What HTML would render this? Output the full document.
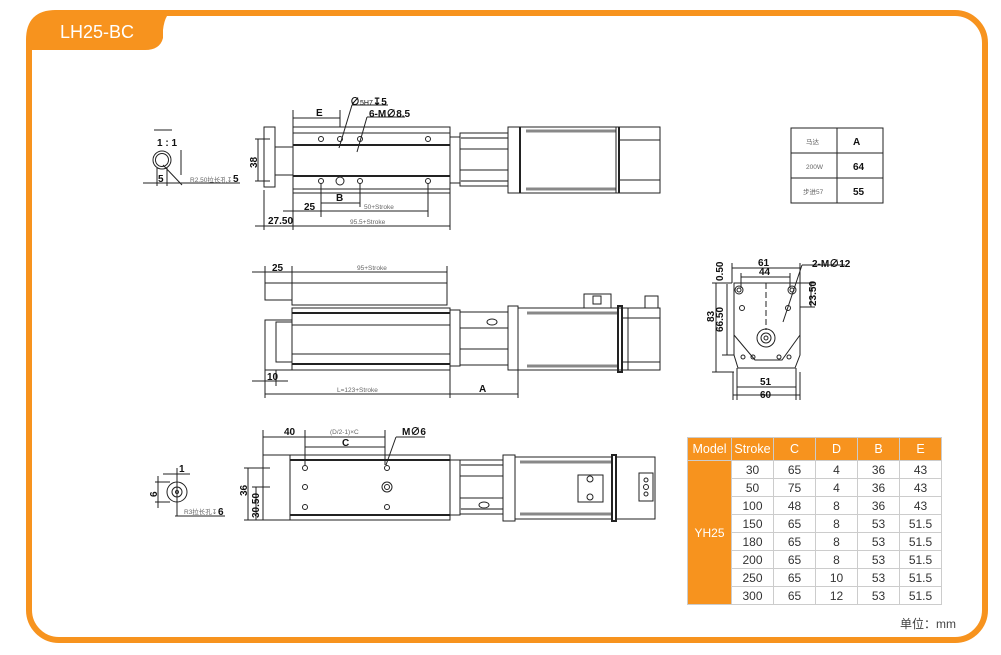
<!DOCTYPE html>
<html><head><meta charset="utf-8"><style>
html,body{margin:0;padding:0;background:#fff;}
body{width:1001px;height:655px;position:relative;overflow:hidden;font-family:"Liberation Sans","Noto Sans CJK SC",sans-serif;}
svg{position:absolute;left:0;top:0}
table{position:absolute;left:687px;top:437px;border-collapse:collapse;font-size:12px;color:#333;}
td{border:1px solid #ccc;text-align:center;height:17px;padding:0;width:41px;}
tr.h td{background:#f7931e;color:#fff;height:22px;font-size:12.5px;}
td.m{background:#f7931e;color:#fff;width:43px;}
</style></head><body>
<svg width="1001" height="655" viewBox="0 0 1001 655" font-family="Liberation Sans, Noto Sans CJK SC, sans-serif">
<!-- frame -->
<rect x="29" y="13" width="956" height="627" rx="30" fill="none" stroke="#f7931e" stroke-width="6"/>
<path d="M26,50 L26,40 Q26,10 56,10 L175,10 Q165,12 163,30 L163,38 Q160,50 145,50 Z" fill="#f7931e"/>
<text x="60" y="38" fill="#fff" font-size="18">LH25-BC</text>

<g stroke="#222" fill="none" stroke-width="1">
<!-- TOP VIEW -->
<rect x="264" y="127" width="11" height="60"/>
<rect x="275" y="147" width="18" height="28"/>
<rect x="293" y="127" width="157" height="66"/>
<line x1="293" y1="133" x2="450" y2="133"/><line x1="293" y1="145" x2="450" y2="145" stroke-width="2"/>
<line x1="293" y1="176" x2="450" y2="176" stroke-width="2"/><line x1="293" y1="189" x2="450" y2="189"/>
<circle cx="321" cy="139" r="2.5"/><circle cx="340" cy="139" r="2.5"/><circle cx="360" cy="139" r="2.5"/><circle cx="428" cy="139" r="2.5"/>
<circle cx="321" cy="181" r="2.5"/><circle cx="340" cy="181" r="4"/><circle cx="360" cy="181" r="2.5"/><circle cx="428" cy="181" r="2.5"/>
<rect x="450" y="137" width="10" height="46"/>
<rect x="460" y="133" width="48" height="16"/><rect x="460" y="170" width="48" height="16"/>
<line x1="460" y1="138" x2="508" y2="138" stroke="#888" stroke-width="2"/><line x1="460" y1="181" x2="508" y2="181" stroke="#888" stroke-width="2"/>
<rect x="508" y="127" width="12" height="66"/><line x1="520" y1="127" x2="520" y2="193" stroke-width="2"/>
<rect x="520" y="127" width="96" height="66"/>
<line x1="526" y1="131" x2="616" y2="131" stroke="#888" stroke-width="3"/><line x1="526" y1="189" x2="616" y2="189" stroke="#888" stroke-width="3"/>
<rect x="616" y="127" width="44" height="66"/>
<line x1="619" y1="127" x2="619" y2="193" stroke-width="2"/>
<line x1="620" y1="140" x2="660" y2="140"/><line x1="620" y1="180" x2="660" y2="180"/>
<!-- top dims -->
<line x1="293" y1="110" x2="293" y2="127"/><line x1="340" y1="110" x2="340" y2="127"/>
<line x1="293" y1="118" x2="340" y2="118"/>
<line x1="255" y1="139" x2="270" y2="139"/><line x1="255" y1="181" x2="270" y2="181"/><line x1="258" y1="139" x2="258" y2="181"/>
<line x1="321" y1="183" x2="321" y2="217"/><line x1="360" y1="183" x2="360" y2="207"/><line x1="428" y1="183" x2="428" y2="217"/>
<line x1="321" y1="203" x2="360" y2="203"/><line x1="321" y1="211" x2="428" y2="211"/><line x1="283" y1="211" x2="321" y2="211"/>
<line x1="264" y1="190" x2="264" y2="230"/><line x1="293" y1="193" x2="293" y2="230"/><line x1="450" y1="193" x2="450" y2="230"/>
<line x1="255" y1="226" x2="450" y2="226"/>
<line x1="339" y1="148" x2="352" y2="105"/><line x1="352" y1="105" x2="388" y2="105"/>
<line x1="357" y1="152" x2="367" y2="117"/><line x1="367" y1="117" x2="405" y2="117"/>
<!-- detail 1 -->
<circle cx="162" cy="160" r="9"/><circle cx="162" cy="160" r="6.5"/>
<line x1="154" y1="130" x2="172" y2="130"/>
<line x1="143" y1="183" x2="240" y2="183"/><line x1="157" y1="168" x2="157" y2="186"/><line x1="167" y1="168" x2="167" y2="186"/>
<line x1="163" y1="165" x2="182" y2="185"/>
<line x1="181" y1="150" x2="181" y2="175"/>

<!-- SIDE VIEW -->
<rect x="265" y="283" width="27" height="17"/>
<rect x="265" y="320" width="27" height="50"/>
<rect x="276" y="322" width="16" height="40"/>
<rect x="292" y="283" width="155" height="22"/>
<rect x="292" y="308" width="158" height="62"/>
<line x1="292" y1="313" x2="450" y2="313" stroke-width="2"/><line x1="292" y1="325" x2="450" y2="325"/>
<line x1="292" y1="354" x2="450" y2="354"/><line x1="292" y1="364" x2="450" y2="364" stroke-width="2"/>
<rect x="450" y="310" width="10" height="56"/>
<rect x="460" y="312" width="48" height="16"/><rect x="460" y="349" width="48" height="16"/>
<ellipse cx="492" cy="322" rx="5" ry="3"/>
<rect x="508" y="306" width="10" height="64"/>
<rect x="518" y="308" width="110" height="62"/>
<line x1="527" y1="313" x2="618" y2="313" stroke="#888" stroke-width="3"/><line x1="527" y1="366" x2="618" y2="366" stroke="#888" stroke-width="3"/>
<rect x="618" y="306" width="4" height="66" stroke-width="2"/>
<rect x="622" y="308" width="38" height="62"/>
<line x1="622" y1="318" x2="660" y2="318"/><line x1="622" y1="362" x2="660" y2="362"/>
<path d="M584,308 V294 H611 V308 M593,296 V304 H601 V296 Z"/>
<path d="M645,308 V296 H658 V308"/>
<!-- side dims -->
<line x1="265" y1="266" x2="265" y2="283"/><line x1="292" y1="266" x2="292" y2="283"/><line x1="447" y1="266" x2="447" y2="283"/>
<line x1="252" y1="272" x2="447" y2="272"/>
<line x1="265" y1="370" x2="265" y2="398"/><line x1="276" y1="370" x2="276" y2="386"/>
<line x1="252" y1="381" x2="288" y2="381"/>
<line x1="450" y1="370" x2="450" y2="398"/><line x1="518" y1="370" x2="518" y2="398"/>
<line x1="265" y1="394" x2="518" y2="394"/>

<!-- END VIEW -->
<path d="M734,283 H800 V355 L795,368 H738 L734,355 Z"/>
<path d="M734,335 L755,360 H782 L800,335"/>
<circle cx="766" cy="338" r="9"/><circle cx="766" cy="338" r="5"/><circle cx="766" cy="338" r="2"/>
<circle cx="739" cy="290" r="4"/><circle cx="739" cy="290" r="2"/>
<circle cx="792" cy="290" r="4"/><circle cx="792" cy="290" r="2"/>
<circle cx="742" cy="308" r="2.5"/><circle cx="788" cy="308" r="2.5"/>
<circle cx="743" cy="357" r="2"/><circle cx="789" cy="357" r="2"/><circle cx="753" cy="357" r="2"/><circle cx="779" cy="357" r="2"/>
<line x1="766" y1="283" x2="766" y2="330" stroke-dasharray="6,3"/>
<line x1="732" y1="263" x2="732" y2="283"/><line x1="800" y1="263" x2="800" y2="283"/>
<line x1="732" y1="268" x2="800" y2="268"/><line x1="741" y1="277" x2="790" y2="277"/><line x1="741" y1="273" x2="741" y2="288"/><line x1="790" y1="273" x2="790" y2="288"/>
<line x1="712" y1="283" x2="732" y2="283"/><line x1="712" y1="372" x2="734" y2="372"/><line x1="722" y1="355" x2="734" y2="355"/>
<line x1="716" y1="283" x2="716" y2="372"/><line x1="727" y1="284" x2="727" y2="355"/>
<line x1="800" y1="283" x2="815" y2="283"/><line x1="800" y1="307" x2="815" y2="307"/><line x1="811" y1="283" x2="811" y2="307"/>
<line x1="783" y1="322" x2="802" y2="265"/><line x1="802" y1="265" x2="845" y2="265"/>
<line x1="737" y1="368" x2="737" y2="400"/><line x1="796" y1="368" x2="796" y2="400"/><line x1="733" y1="372" x2="733" y2="400"/><line x1="800" y1="372" x2="800" y2="400"/>
<line x1="737" y1="387" x2="796" y2="387"/><line x1="733" y1="395" x2="800" y2="395"/>
<!-- small table -->
<rect x="791" y="128" width="92" height="75"/>
<line x1="791" y1="153" x2="883" y2="153"/><line x1="791" y1="178" x2="883" y2="178"/><line x1="837" y1="128" x2="837" y2="203"/>

<!-- BOTTOM VIEW -->
<rect x="263" y="455" width="187" height="65"/>
<line x1="290" y1="455" x2="290" y2="520"/>
<line x1="290" y1="460" x2="450" y2="460" stroke-width="2"/><line x1="290" y1="515" x2="450" y2="515" stroke-width="2"/>
<circle cx="305" cy="468" r="2.5"/><circle cx="387" cy="468" r="2.5"/>
<circle cx="305" cy="487" r="2.5"/><circle cx="387" cy="487" r="5"/><circle cx="387" cy="487" r="2.5"/>
<circle cx="305" cy="507" r="2.5"/><circle cx="387" cy="507" r="2.5"/>
<rect x="450" y="460" width="10" height="55"/>
<rect x="460" y="460" width="43" height="16"/><rect x="460" y="498" width="43" height="16"/>
<line x1="460" y1="465" x2="503" y2="465" stroke="#888" stroke-width="2"/><line x1="460" y1="509" x2="503" y2="509" stroke="#888" stroke-width="2"/>
<ellipse cx="484" cy="505" rx="5" ry="3"/>
<rect x="503" y="455" width="12" height="66"/>
<rect x="515" y="457" width="97" height="62"/>
<line x1="520" y1="462" x2="612" y2="462" stroke="#888" stroke-width="3"/><line x1="520" y1="514" x2="612" y2="514" stroke="#888" stroke-width="3"/>
<rect x="612" y="455" width="4" height="66" stroke-width="2"/>
<rect x="616" y="457" width="39" height="62"/>
<rect x="578" y="475" width="25" height="27"/><circle cx="590" cy="479" r="3"/><circle cx="590" cy="497" r="3"/>
<rect x="639" y="473" width="14" height="28"/><circle cx="646" cy="480" r="2"/><circle cx="646" cy="487" r="2.5"/><circle cx="646" cy="494" r="2"/>
<!-- bottom dims -->
<line x1="263" y1="430" x2="263" y2="455"/><line x1="305" y1="430" x2="305" y2="465"/><line x1="385" y1="430" x2="385" y2="465"/>
<line x1="263" y1="437" x2="305" y2="437"/><line x1="305" y1="437" x2="385" y2="437"/><line x1="305" y1="447" x2="385" y2="447"/>
<line x1="386" y1="465" x2="396" y2="437"/><line x1="396" y1="437" x2="425" y2="437"/>
<line x1="244" y1="468" x2="270" y2="468"/><line x1="244" y1="520" x2="263" y2="520"/><line x1="248" y1="468" x2="248" y2="520"/>
<line x1="252" y1="487" x2="270" y2="487"/><line x1="256" y1="487" x2="256" y2="520"/>
<!-- detail 2 -->
<circle cx="177" cy="492" r="10"/><circle cx="177" cy="492" r="5"/><circle cx="177" cy="492" r="1.5"/>
<line x1="155" y1="482" x2="170" y2="482"/><line x1="155" y1="502" x2="170" y2="502"/><line x1="158" y1="476" x2="158" y2="508"/>
<line x1="163" y1="474" x2="190" y2="474"/><line x1="177" y1="468" x2="177" y2="516"/>
<line x1="175" y1="516" x2="225" y2="516"/>
</g>

<g fill="#111" font-size="10" font-weight="bold">
<text x="316" y="116">E</text>
<text x="350" y="105" font-size="10">∅<tspan font-size="7" font-weight="normal">5H7</tspan>↧5</text>
<text x="369" y="117">6-M∅8.5</text>
<text x="244" y="165" transform="rotate(-90 252 160)">38</text>
<text x="304" y="210">25</text>
<text x="336" y="201">B</text>
<text x="268" y="224">27.50</text>
<text x="157" y="146">1 : 1</text>
<text x="158" y="182">5</text>
<text x="233" y="182">5</text>
<text x="272" y="271">25</text>
<text x="267" y="380">10</text>
<text x="479" y="392">A</text>
<text x="758" y="266">61</text><text x="759" y="275">44</text>
<text x="812" y="267">2-M∅12</text>
<text x="760" y="385">51</text><text x="760" y="398">60</text>
<text x="0" y="0" transform="translate(723,281) rotate(-90)">0.50</text>
<text x="0" y="0" transform="translate(723,332) rotate(-90)">66.50</text>
<text x="0" y="0" transform="translate(714,322) rotate(-90)">83</text>
<text x="0" y="0" transform="translate(816,306) rotate(-90)">23.50</text>
<text x="284" y="435">40</text>
<text x="342" y="446">C</text>
<text x="402" y="435">M∅6</text>
<text x="0" y="0" transform="translate(247,496) rotate(-90)">36</text>
<text x="0" y="0" transform="translate(259,518) rotate(-90)">30.50</text>
<text x="179" y="472">1</text>
<text x="0" y="0" transform="translate(157,497) rotate(-90)">6</text>
<text x="218" y="515">6</text>
<text x="853" y="145">A</text>
<text x="853" y="170">64</text>
<text x="853" y="195">55</text>
</g>
<g fill="#666" font-size="6.5">
<text x="190" y="182">R2.50拉长孔↧</text>
<text x="364" y="209">50+Stroke</text>
<text x="350" y="224">95.5+Stroke</text>
<text x="357" y="270">95+Stroke</text>
<text x="337" y="392">L=123+Stroke</text>
<text x="330" y="434">(D/2-1)×C</text>
<text x="184" y="514">R3拉长孔↧</text>
<text x="806" y="144">马达</text>
<text x="806" y="169">200W</text>
<text x="803" y="194">步进57</text>
</g>
<text x="900" y="628" font-size="12" fill="#444">单位：mm</text>
</svg>
<table>
<tr class="h"><td>Model</td><td>Stroke</td><td>C</td><td>D</td><td>B</td><td>E</td></tr>
<tr><td class="m" rowspan="8">YH25</td><td>30</td><td>65</td><td>4</td><td>36</td><td>43</td></tr>
<tr><td>50</td><td>75</td><td>4</td><td>36</td><td>43</td></tr>
<tr><td>100</td><td>48</td><td>8</td><td>36</td><td>43</td></tr>
<tr><td>150</td><td>65</td><td>8</td><td>53</td><td>51.5</td></tr>
<tr><td>180</td><td>65</td><td>8</td><td>53</td><td>51.5</td></tr>
<tr><td>200</td><td>65</td><td>8</td><td>53</td><td>51.5</td></tr>
<tr><td>250</td><td>65</td><td>10</td><td>53</td><td>51.5</td></tr>
<tr><td>300</td><td>65</td><td>12</td><td>53</td><td>51.5</td></tr>
</table>
</body></html>
